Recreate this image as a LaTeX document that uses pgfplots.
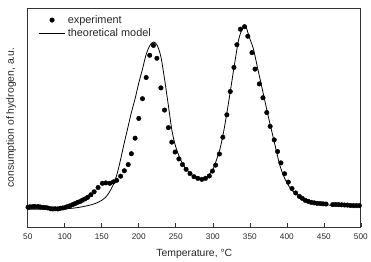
\documentclass[border=0pt]{standalone}
\usepackage{fontspec}
\setmainfont{Liberation Sans}
\usepackage{pgfplots}
\pgfplotsset{compat=1.18}
\pgfplotsset{
  dotleg/.style={legend image code/.code={\draw[##1,mark repeat=2,mark phase=2] plot coordinates {(0pt,0pt) (13.5pt,0pt) (27pt,0pt)};}},
  lineleg/.style={legend image code/.code={\draw[##1] (0pt,0pt) -- (27pt,0pt);}},
}
\begin{document}
\begin{tikzpicture}
\begin{axis}[
  name=ax,
  scale only axis, width=336pt, height=221pt,
  xmin=50, xmax=500, ymin=0, ymax=222,
  xtick={50,100,...,500}, ytick=\empty,
  xtick pos=bottom, tick align=inside, major tick length=4pt,
  /pgf/number format/assume math mode=true,
  xticklabel style={font=\fontsize{8.3}{9}\selectfont, text=black!85, yshift=-3pt},
  axis line style={line width=0.7pt, black!80},
  every tick/.style={black!80, line width=0.6pt},
  xlabel={Temperature, °C},
  ylabel={consumption of hydrogen, a.u.},
  xlabel style={font=\fontsize{10.5}{12}\selectfont, at={(axis description cs:0.5,-0.122)}, anchor=center, text=black!85},
  ylabel style={font=\fontsize{10.5}{12}\selectfont, at={(axis description cs:-0.05,0.5)}, anchor=center, text=black!85},
  legend style={draw=none, fill=none, at={(axis description cs:0.022,0.985)}, anchor=north west,
    font=\fontsize{11}{13}\selectfont, row sep=-0.5pt, text=black!85},
  legend cell align=left,
]
\addplot[only marks, mark=*, mark size=2.3pt, black, dotleg]
 table {
T v
50.4 20
53 20.5
57 20.7
60 20.7
64 20.7
67 20.3
70.5 20
74 19.7
77 19.3
81 18.5
84 18.3
87 18.5
90.6 18.3
94 19
97.3 19.3
101 20
104 20.7
107 21.5
110.7 22.7
114 23.8
117.4 25
121 26
124 27.3
127.5 28.5
130.8 30
135.3 32.7
139.7 35.7
145 40
150.8 44.3
155.4 44.7
160.8 44.3
165.6 45.7
170.1 47.3
175.5 51.5
180.5 57
185.7 63.3
190 74.3
195 90
200 110
205 130
210 151.5
214.8 174
219.8 184
224.5 171
229.9 141
234.8 118.5
240 100.7
244.6 86
249.1 76
254.2 69
259 63.3
263.9 58.5
269.2 54.2
274.6 51
279.8 49.3
285.2 48.3
290.1 49.3
295.3 51.7
299.5 56.7
303.8 62.7
308.9 74
313.6 91
319 113.7
323.6 137.3
328.6 161.7
332.6 184.7
337.3 200.5
342.9 203
347.3 193.3
352.9 176.7
357.1 160
362.9 145
367.8 131
372.9 116
377.5 102
383 88.3
387.5 76.5
392 65
397 54
402 45.5
407 39
412 34.5
417 31
421 29
425 27
429 26
433 25
437 24.5
441 24
445 23.8
449 23.5
453 23.3
462 22.7
466 22.8
470 22.7
474 22.5
478 22.3
482 22.2
486 21.8
490 21.7
494 21.7
498 21.7
};
\addlegendentry{experiment}
\addplot[black, line width=0.8pt, smooth, lineleg]
 table {
T v
50 18
60 18
70 18
80 18
90 18.3
100 18.5
110 19
120 20
130 21.5
140 23.5
150 27
155 30
160 35
165 42
170 52
175 67
180 84
185 100
190 116
195 130
200 146
205 160
210 175
215 184
220 187.5
225 184
230 172
235 149
240 123
245 97
250 81
255 71
260 63
265 58
270 54
275 51
280 49
285 48.3
290 49.5
295 53
300 58
305 68
310 80
315 98
320 120
325 144
330 168
335 190
340 201
343 203
345 202.5
350 191
355 180
360 163
365 146
370 129
375 112
380 96
385 80
390 64
395 53
400 45
405 39
410 35
415 32
420 29.5
430 26.5
440 24.5
450 23
460 22
480 21.7
500 21.5
};
\addlegendentry{theoretical model}
\end{axis}
\path ([xshift=-28pt,yshift=8pt]ax.north west) rectangle ([xshift=7pt,yshift=-30pt]ax.south east);
\end{tikzpicture}
\end{document}
